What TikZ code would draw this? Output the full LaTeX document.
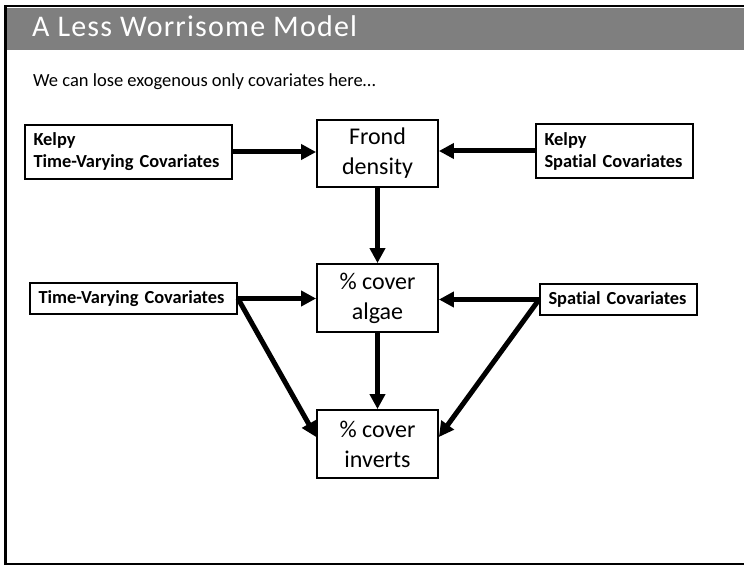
\documentclass[tikz,border=0pt]{standalone}
\usepackage{fontspec}
\setmainfont{Carlito}[Ligatures=NoCommon]
\usetikzlibrary{arrows.meta,calc}

\definecolor{barGrey}{HTML}{7F7F7F}

\tikzset{
  covbox/.style={draw=black, line width=1.8pt, inner xsep=8.5pt, inner ysep=0pt,
    align=left, font=\fontsize{18.4}{22}\selectfont\bfseries},
  varbox/.style={draw=black, line width=1.8pt, inner sep=0pt, align=center,
    minimum width=121pt, font=\fontsize{24}{30}\selectfont},
  link/.style={line width=5pt, -{Triangle[length=15pt,width=15pt]}},
}

\begin{document}
\begin{tikzpicture}[x=1pt, y=1pt]
  \useasboundingbox (0,0) rectangle (744,565);

  % slide frame and title bar
  \fill[barGrey] (6,515) rectangle (744,557);
  \draw[line width=2.5pt] (744,559) -- (5.25,559) -- (5.25,1.25) -- (744,1.25);
  \node[anchor=base west, inner sep=0pt, text=white,
        font=\fontsize{30}{36}\selectfont\addfontfeatures{LetterSpace=4}] (title) at (32,528)
        {A Less Worrisome Model};
  \node[anchor=base west, inner sep=0pt,
        font=\fontsize{18.5}{22}\selectfont] (subtitle) at (33,478)
        {We can lose exogenous only covariates here…};

  % covariate boxes
  \node[covbox, text width=190pt, minimum height=54pt] (ktv) at (128.5,413)
        {Kelpy\\Time-Varying Covariates};
  \node[covbox, text width=140pt, minimum height=54pt] (ksp) at (614.5,414)
        {Kelpy\\Spatial Covariates};
  \node[covbox, text width=190pt, minimum height=31pt] (tv) at (133.5,266.5)
        {Time-Varying Covariates};
  \node[covbox, text width=140pt, minimum height=31pt] (sp) at (618.5,265.5)
        {Spatial Covariates};

  % response variables
  \node[varbox, minimum height=67pt] (frond) at (377.5,411.5) {Frond\\density};
  \node[varbox, minimum height=68pt] (algae) at (377.5,267) {\% cover\\algae};
  \node[varbox, minimum height=68pt] (inv) at (377.5,121) {\% cover\\inverts};

  % paths
  \draw[link] (ktv.east) -- (ktv.east -| frond.west);
  \draw[link] (ksp.west) -- (ksp.west -| frond.east);
  \draw[link] (frond.south) -- (algae.north);
  \draw[link] (tv.east) -- (tv.east -| algae.west);
  \draw[link] (sp.west) -- (sp.west -| algae.east);
  \draw[link] (algae.south) -- (inv.north);
  \draw[link] (tv.east) -- ($(inv.north west)!0.4!(inv.south west)$);
  \draw[link] (sp.west) -- ($(inv.north east)!0.4!(inv.south east)$);
\end{tikzpicture}
\end{document}
